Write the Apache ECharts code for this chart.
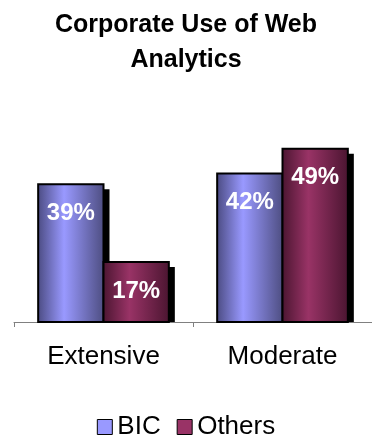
<!DOCTYPE html>
<html>
<head>
<meta charset="utf-8">
<script src="https://cdn.jsdelivr.net/npm/echarts@6/dist/echarts.min.js"></script>
<style>
  html, body { margin: 0; padding: 0; background: #fff; }
  #main { width: 372px; height: 438px; }
</style>
</head>
<body>
<div id="main"></div>
<script>
var categories = ['Extensive', 'Moderate'];
var bicValues = [39, 42];
var othersValues = [17, 49];

var myChart = echarts.init(document.getElementById('main'));

function barGradient(edge1, mid, edge2) {
    return new echarts.graphic.LinearGradient(0, 0, 1, 0, [
        { offset: 0, color: edge1 },
        { offset: 0.4, color: mid },
        { offset: 1, color: edge2 }
    ]);
}

// 柱子 + 阴影 + 标签, side = -1 左边, 0 右边
function makeRender(side, fill) {
    return function (params, api) {
        var cat = api.value(0);
        var val = api.value(1);
        var base = api.coord([cat, 0]);
        var top = api.coord([cat, val]);
        var barW = api.size([1, 0])[0] * 0.365;
        var x = base[0] + side * barW;
        var h = base[1] - top[1];
        return {
            type: 'group',
            children: [{
                type: 'rect',
                shape: { x: x + 6, y: top[1] + 5, width: barW, height: h - 5 },
                style: { fill: '#000' }
            }, {
                type: 'rect',
                shape: { x: x, y: top[1], width: barW, height: h },
                style: { fill: fill, stroke: '#000', lineWidth: 2 }
            }, {
                type: 'text',
                style: {
                    text: val + '%',
                    x: x + barW / 2,
                    y: top[1] + 17,
                    align: 'center',
                    verticalAlign: 'top',
                    fill: '#fff',
                    font: 'bold 24px "Liberation Sans"'
                }
            }]
        };
    };
}

myChart.setOption({
    title: {
        text: 'Corporate Use of Web\nAnalytics',
        left: 'center',
        top: 3,
        textStyle: {
            fontFamily: 'Liberation Sans',
            fontWeight: 'bold',
            fontSize: 25,
            lineHeight: 35,
            color: '#000'
        }
    },
    legend: {
        bottom: -2,
        left: 'center',
        padding: 0,
        itemWidth: 15,
        itemHeight: 15,
        itemGap: 16,
        textStyle: { fontFamily: 'Liberation Sans', fontSize: 26, color: '#000' },
        data: [
            { name: 'BIC', icon: 'rect', itemStyle: { color: '#9999ff', borderColor: '#000', borderWidth: 1 } },
            { name: 'Others', icon: 'rect', itemStyle: { color: '#993366', borderColor: '#000', borderWidth: 1 } }
        ]
    },
    grid: { left: 14, right: 0, top: 110, bottom: 116 },
    xAxis: {
        type: 'category',
        data: categories,
        axisLine: { lineStyle: { color: '#808080', width: 1 } },
        axisTick: { show: true, length: 5, lineStyle: { color: '#808080' } },
        axisLabel: { fontFamily: 'Liberation Sans', fontSize: 26, color: '#000', margin: 22 }
    },
    yAxis: {
        type: 'value',
        min: 0,
        max: 60,
        show: false,
        splitLine: { show: false }
    },
    series: [{
        name: 'BIC',
        type: 'custom',
        data: bicValues.map(function (v, i) { return [i, v]; }),
        itemStyle: { color: '#9999ff' },
        renderItem: makeRender(-1, barGradient('#4a4a80', '#9999ff', '#4d4d80'))
    }, {
        name: 'Others',
        type: 'custom',
        data: othersValues.map(function (v, i) { return [i, v]; }),
        itemStyle: { color: '#993366' },
        renderItem: makeRender(0, barGradient('#4a1530', '#993366', '#4a1530'))
    }]
});
</script>
</body>
</html>
